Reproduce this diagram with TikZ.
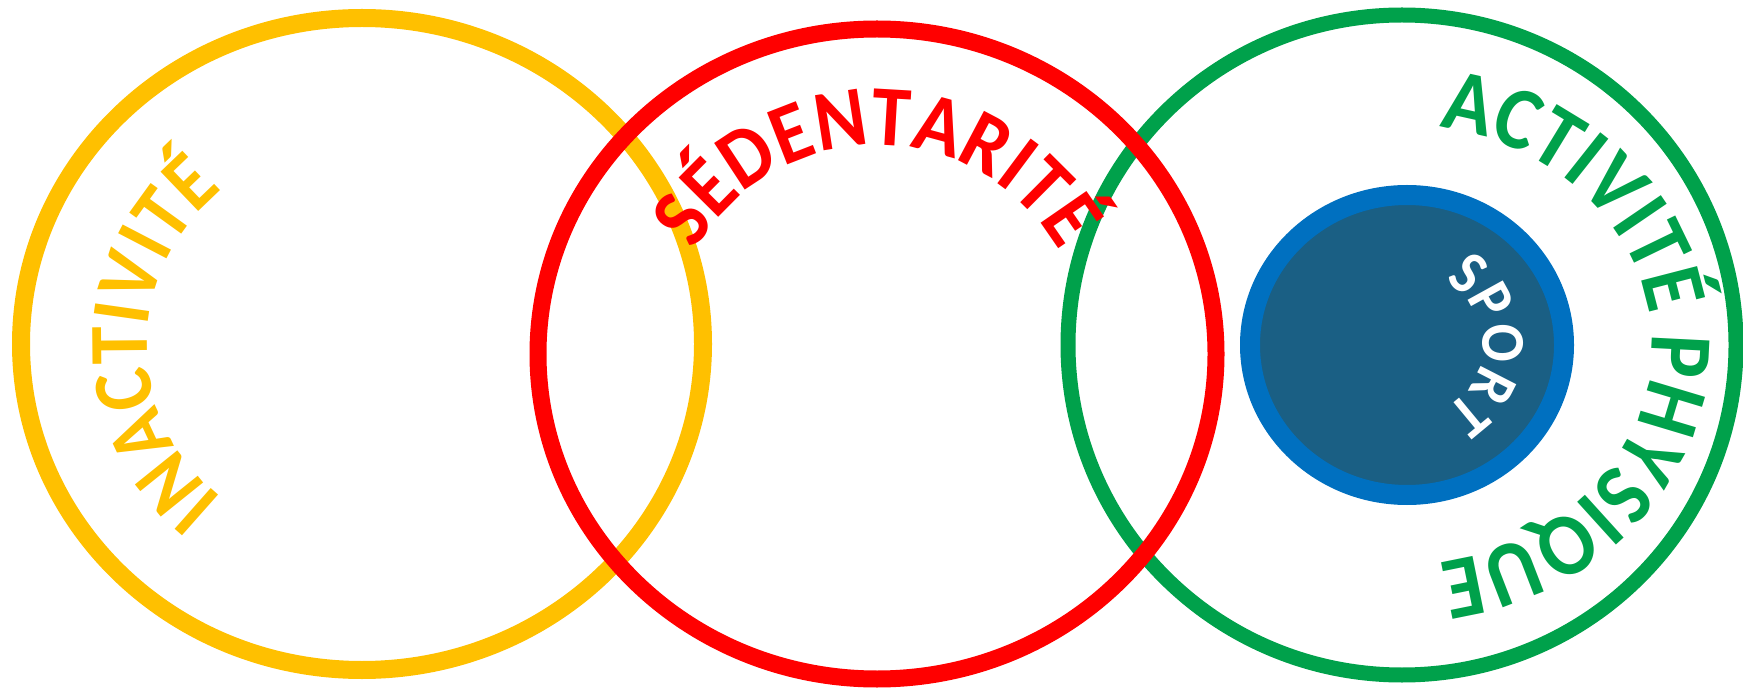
\documentclass[tikz,border=0pt]{standalone}
\usepackage{fontspec}
\setmainfont{Carlito}
\newfontfamily\etroite[FakeStretch=0.91]{Carlito}
\usetikzlibrary{decorations.text}
\definecolor{jaune}{HTML}{FFC000}
\definecolor{rouge}{HTML}{FF0000}
\definecolor{vert}{HTML}{00A14B}
\definecolor{bleu}{HTML}{0070C0}
\definecolor{bleufonce}{HTML}{1A5F84}

\begin{document}
\begin{tikzpicture}[x=1pt,y=1pt,line cap=round,line join=round,
    anneau/.style={line width=#1},
    lettrage/.style n args={3}{decorate,decoration={text along path,text align=center,
        text color=#1,text={|\fontsize{#2}{#2}\etroite\bfseries|#3}}}]
    \useasboundingbox (0,0) rectangle (1743,689);
    \coordinate (inactivite) at (362,345);
    \coordinate (sedentarite) at (877,335);
    \coordinate (activite) at (1402,344);
    \coordinate (sport) at (1407,344);

    % les trois anneaux
    \draw[jaune,anneau=18] (inactivite) ellipse [x radius=341,y radius=326];
    \draw[vert,anneau=15] (activite) ellipse [x radius=334,y radius=330];
    \draw[rouge,anneau=17] (sedentarite) ellipse [x radius=339,y radius=325];
    \draw[bleu,fill=bleufonce,anneau=20] (sport) ellipse [x radius=157,y radius=150];

    % textes courbes
    \path[lettrage={jaune}{84}{INACTIVITÉ}] ([shift={(inactivite)}]270:215 and 203)
        arc[start angle=270,end angle=90,x radius=215,y radius=203];
    \path[lettrage={rouge}{86}{SÉDENTARITÉ}] ([shift={(sedentarite)}]180:209 and 209)
        arc[start angle=180,end angle=0,x radius=209,y radius=209];
    \path[lettrage={vert}{89}{ACTIVITÉ PHYSIQUE}] ([shift={(activite)}]90:250 and 220)
        arc[start angle=90,end angle=-90,x radius=250,y radius=220];
    \path[lettrage={white}{62}{SPORT}] ([shift={(sport)}]90:76 and 73)
        arc[start angle=90,end angle=-90,x radius=76,y radius=73];
\end{tikzpicture}
\end{document}
